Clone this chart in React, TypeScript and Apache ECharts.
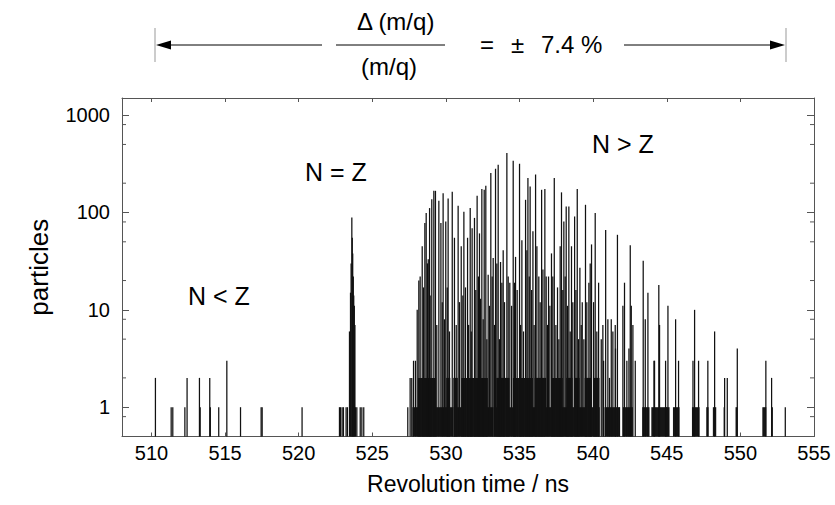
import React, { useEffect, useRef } from "react";
import * as echarts from "echarts";

// ---------- data ----------
const xTickValues = [510, 515, 520, 525, 530, 535, 540, 545, 550, 555];
const yTickLabels = [1, 10, 100, 1000];
const yMinorTicks = [0.8, 2, 5, 8, 20, 50, 80, 200, 500, 800];

// [revolution time (ns), particles]
const nLessZLines: [number, number][] = [
  [510.27, 2], [511.34, 1], [511.45, 1], [512.27, 1], [512.42, 2], [513.26, 2],
  [513.31, 1], [513.96, 2], [514.0, 1], [514.57, 1], [515.12, 3], [516.05, 1],
  [517.45, 1], [517.52, 1], [520.23, 1],
];

const nEqualZLines: [number, number][] = [
  [522.77, 1], [522.84, 1], [522.95, 1], [523.04, 1], [523.22, 1], [523.31, 1],
  [523.45, 6], [523.52, 15], [523.56, 30], [523.61, 89], [523.64, 55], [523.67, 38],
  [523.71, 22], [523.74, 14], [523.78, 11], [523.82, 7], [523.86, 1], [523.95, 1],
  [524.18, 1], [524.29, 1], [524.42, 1],
];

const nGreaterZLines: [number, number][] = [
  [527.41, 1], [527.57, 2], [527.68, 2], [527.8, 3], [527.93, 3], [528.05, 10],
  [528.16, 20], [528.25, 22], [528.39, 45], [528.48, 17], [528.57, 78], [528.66, 99],
  [528.75, 30], [528.8, 33], [528.89, 111], [528.93, 14], [529.04, 137], [529.18, 167],
  [529.29, 167], [529.38, 7], [529.52, 132], [529.66, 78], [529.75, 12], [529.81, 158],
  [529.9, 8], [529.99, 81], [530.09, 17], [530.15, 139], [530.24, 6], [530.43, 163],
  [530.58, 55], [530.7, 7], [530.83, 117], [530.92, 12], [531.04, 45], [531.15, 14],
  [531.22, 102], [531.33, 17], [531.47, 55], [531.54, 7], [531.65, 111], [531.72, 6],
  [531.78, 69], [531.94, 88], [532.03, 16], [532.12, 149], [532.21, 22], [532.28, 61],
  [532.35, 13], [532.44, 174], [532.53, 8], [532.6, 171], [532.71, 188], [532.78, 5],
  [532.87, 23], [532.96, 11], [533.05, 254], [533.14, 22], [533.21, 34], [533.3, 7],
  [533.37, 281], [533.46, 30], [533.55, 309], [533.64, 5], [533.71, 31], [533.8, 19],
  [533.89, 41], [533.98, 12], [534.14, 408], [534.23, 22], [534.34, 19], [534.46, 11],
  [534.57, 340], [534.66, 19], [534.73, 35], [534.84, 16], [535.0, 317], [535.07, 7],
  [535.16, 52], [535.27, 6], [535.41, 135], [535.5, 41], [535.57, 226], [535.66, 22],
  [535.72, 185], [535.82, 16], [535.91, 64], [535.99, 7], [536.09, 246], [536.18, 45],
  [536.31, 22], [536.4, 12], [536.5, 171], [536.59, 26], [536.72, 174], [536.81, 22],
  [536.9, 7], [536.97, 22], [537.06, 11], [537.17, 38], [537.26, 22], [537.36, 226],
  [537.47, 7], [537.58, 17], [537.67, 5], [537.76, 45], [537.85, 161], [537.94, 16],
  [538.01, 81], [538.1, 22], [538.17, 115], [538.26, 11], [538.35, 115], [538.44, 6],
  [538.53, 45], [538.62, 12], [538.74, 91], [538.83, 16], [538.92, 174], [539.01, 5],
  [539.1, 27], [539.19, 7], [539.26, 12], [539.37, 5], [539.48, 120], [539.57, 12],
  [539.71, 19], [539.8, 30], [539.89, 47], [540.03, 12], [540.14, 99], [540.25, 6],
  [540.37, 19], [540.55, 5], [540.66, 7], [540.71, 3], [540.85, 66], [541.0, 8],
  [541.11, 2], [541.23, 8], [541.34, 6], [541.5, 7], [541.52, 4], [541.65, 59],
  [541.79, 1], [542.02, 11], [542.13, 19], [542.29, 3], [542.43, 4], [542.52, 46],
  [542.59, 11], [542.7, 7], [542.86, 3], [543.4, 32], [543.54, 8], [543.72, 15],
  [544.13, 3], [544.17, 3], [544.46, 18], [544.51, 7], [544.92, 3], [544.96, 1],
  [545.08, 11], [545.6, 8], [545.8, 3], [546.78, 3], [546.89, 10], [547.16, 3],
  [547.79, 3], [548.25, 6], [548.93, 2], [549.11, 2], [549.79, 4], [551.73, 3],
  [552.12, 2], [553.05, 1],
];

// [start (ns), end (ns), particles] : stretches where every bin holds at least this count
const filledStretches: [number, number, number][] = [
  [527.72, 529.3, 1], [529.33, 530.5, 1], [530.53, 532.3, 1], [532.33, 533.2, 1],
  [533.23, 534.8, 1], [534.83, 536.75, 1], [536.8, 538.4, 1], [538.45, 540.45, 1],
  [540.77, 541.79, 1], [542.02, 542.7, 1], [543.33, 543.83, 1], [543.95, 545.19, 1],
  [545.42, 545.87, 1], [546.71, 547.23, 1], [547.68, 547.84, 1], [548.13, 548.36, 1],
  [548.86, 548.95, 1], [549.67, 549.81, 1], [551.49, 551.76, 1], [552.1, 552.21, 1],
  [528.09, 529.34, 2], [530.02, 530.3, 2], [530.5, 530.81, 2], [531.04, 532.85, 2],
  [533.42, 534.32, 2], [534.55, 535.91, 2], [536.02, 536.81, 2], [537.15, 537.94, 2],
  [538.17, 538.6, 2], [538.75, 539.08, 2], [539.42, 539.9, 2], [540.05, 540.43, 2],
];

// ---------- component ----------
const FONT = "'Liberation Sans', Arial, Helvetica, sans-serif";
const NARROW = "'Liberation Sans Narrow', 'Arial Narrow', 'Liberation Sans', Arial, sans-serif";
const X_MIN = 508;
const X_MAX = 555;
const Y_MIN = 0.5;
const Y_MAX = 1500;

export default function App() {
  const ref = useRef<HTMLDivElement | null>(null);

  useEffect(() => {
    if (!ref.current) return;
    const chart = echarts.init(ref.current, undefined, { renderer: "svg" });

    const allLines = [...nLessZLines, ...nEqualZLines, ...nGreaterZLines];

    const lineRender = (params: any, api: any) => {
      const t = api.value(0);
      const v = api.value(1);
      const top = api.coord([t, v]);
      const base = api.coord([t, Y_MIN]);
      return {
        type: "line",
        shape: { x1: top[0], y1: top[1], x2: top[0], y2: base[1] },
        style: { stroke: "#111", lineWidth: 1.25 },
      };
    };

    const stretchRender = (params: any, api: any) => {
      const a = api.coord([api.value(0), api.value(2)]);
      const b = api.coord([api.value(1), Y_MIN]);
      return {
        type: "rect",
        shape: { x: a[0], y: a[1], width: Math.max(0.8, b[0] - a[0]), height: b[1] - a[1] },
        style: { fill: "#161616" },
      };
    };

    const minorRender = (params: any, api: any) => {
      const v = api.value(0);
      const l = api.coord([X_MIN, v]);
      const r = api.coord([X_MAX, v]);
      return {
        type: "group",
        children: [
          { type: "line", shape: { x1: l[0], y1: l[1], x2: l[0] + 4, y2: l[1] }, style: { stroke: "#555", lineWidth: 1 } },
          { type: "line", shape: { x1: r[0] - 4, y1: r[1], x2: r[0], y2: r[1] }, style: { stroke: "#555", lineWidth: 1 } },
        ],
      };
    };

    const axisColor = "#555";
    const textStyle = { fontFamily: FONT, color: "#000" };

    const option: any = {
      animation: false,
      backgroundColor: "#fff",
      grid: { left: 122, right: 21, top: 98, bottom: 68.5, containLabel: false },
      xAxis: [
        {
          type: "value",
          min: X_MIN,
          max: X_MAX,
          splitNumber: 10,
          position: "bottom",
          name: "Revolution time / ns",
          nameLocation: "middle",
          nameGap: 36,
          nameTextStyle: { ...textStyle, fontSize: 23 },
          axisLine: { lineStyle: { color: axisColor, width: 1 } },
          axisTick: { inside: true, length: 4, lineStyle: { color: axisColor } },
          axisLabel: {
            color: "#000",
            fontFamily: NARROW,
            fontSize: 20,
            margin: 6,
            formatter: (v: number) => (xTickValues.includes(Math.round(v)) && Math.abs(v - Math.round(v)) < 1e-6 ? String(Math.round(v)) : ""),
          },
          splitLine: { show: false },
        },
        {
          type: "value",
          min: X_MIN,
          max: X_MAX,
          splitNumber: 10,
          position: "top",
          axisLine: { lineStyle: { color: axisColor, width: 1 } },
          axisTick: { inside: true, length: 4, lineStyle: { color: axisColor } },
          axisLabel: { show: false },
          splitLine: { show: false },
        },
      ],
      yAxis: [
        {
          type: "log",
          logBase: 10,
          min: Y_MIN,
          max: Y_MAX,
          position: "left",
          name: "particles",
          nameLocation: "middle",
          nameGap: 70,
          nameTextStyle: { ...textStyle, fontSize: 26 },
          axisLine: { lineStyle: { color: axisColor, width: 1 } },
          axisTick: { inside: true, length: 7, lineStyle: { color: axisColor } },
          axisLabel: {
            color: "#000",
            fontFamily: NARROW,
            fontSize: 20,
            margin: 12,
            formatter: (v: number) => {
              const r = Math.round(v);
              return yTickLabels.includes(r) && Math.abs(v - r) < 1e-6 * Math.max(1, r) ? String(r) : "";
            },
          },
          splitLine: { show: false },
        },
        {
          type: "log",
          logBase: 10,
          min: Y_MIN,
          max: Y_MAX,
          position: "right",
          axisLine: { lineStyle: { color: axisColor, width: 1 } },
          axisTick: { inside: true, length: 7, lineStyle: { color: axisColor } },
          axisLabel: { show: false },
          splitLine: { show: false },
        },
      ],
      series: [
        {
          type: "custom",
          name: "stretches",
          xAxisIndex: 0,
          yAxisIndex: 0,
          renderItem: stretchRender,
          encode: { x: [0, 1], y: 2 },
          data: filledStretches,
          silent: true,
        },
        {
          type: "custom",
          name: "counts",
          xAxisIndex: 0,
          yAxisIndex: 0,
          renderItem: lineRender,
          encode: { x: 0, y: 1 },
          data: allLines,
          silent: true,
        },
        {
          type: "custom",
          name: "minorTicks",
          xAxisIndex: 0,
          yAxisIndex: 0,
          renderItem: minorRender,
          encode: { y: 0 },
          data: yMinorTicks.map((v) => [v]),
          silent: true,
        },
      ],
      graphic: [
        // region labels
        { type: "text", left: 188, top: 283, style: { text: "N < Z", font: `25px ${FONT}`, fill: "#000" } },
        { type: "text", left: 305, top: 159, style: { text: "N = Z", font: `25px ${FONT}`, fill: "#000" } },
        { type: "text", left: 592, top: 131, style: { text: "N > Z", font: `25px ${FONT}`, fill: "#000" } },
        // resolution annotation
        { type: "line", shape: { x1: 155, y1: 28, x2: 155, y2: 62 }, style: { stroke: "#999", lineWidth: 1 } },
        { type: "line", shape: { x1: 786, y1: 28, x2: 786, y2: 62 }, style: { stroke: "#999", lineWidth: 1 } },
        { type: "line", shape: { x1: 166, y1: 45, x2: 322, y2: 45 }, style: { stroke: "#000", lineWidth: 1 } },
        { type: "polygon", shape: { points: [[156, 45], [171, 40.5], [171, 49.5]] }, style: { fill: "#000" } },
        { type: "line", shape: { x1: 624, y1: 45, x2: 772, y2: 45 }, style: { stroke: "#000", lineWidth: 1 } },
        { type: "polygon", shape: { points: [[785, 45], [770, 40.5], [770, 49.5]] }, style: { fill: "#000" } },
        { type: "line", shape: { x1: 336, y1: 45, x2: 445, y2: 45 }, style: { stroke: "#000", lineWidth: 1 } },
        { type: "text", left: 357, top: 9, style: { text: "\u0394 (m/q)", font: `24px ${FONT}`, fill: "#000" } },
        { type: "text", left: 361, top: 54, style: { text: "(m/q)", font: `24px ${FONT}`, fill: "#000" } },
        { type: "text", left: 480, top: 32, style: { text: "=", font: `24px ${FONT}`, fill: "#000" } },
        { type: "text", left: 511, top: 32, style: { text: "\u00B1", font: `24px ${FONT}`, fill: "#000" } },
        { type: "text", left: 541, top: 32, style: { text: "7.4 %", font: `24px ${FONT}`, fill: "#000" } },
      ],
    };

    chart.setOption(option);
    return () => chart.dispose();
  }, []);

  return <div ref={ref} style={{ width: 835, height: 505, position: "absolute", left: 0, top: 0 }} />;
}
